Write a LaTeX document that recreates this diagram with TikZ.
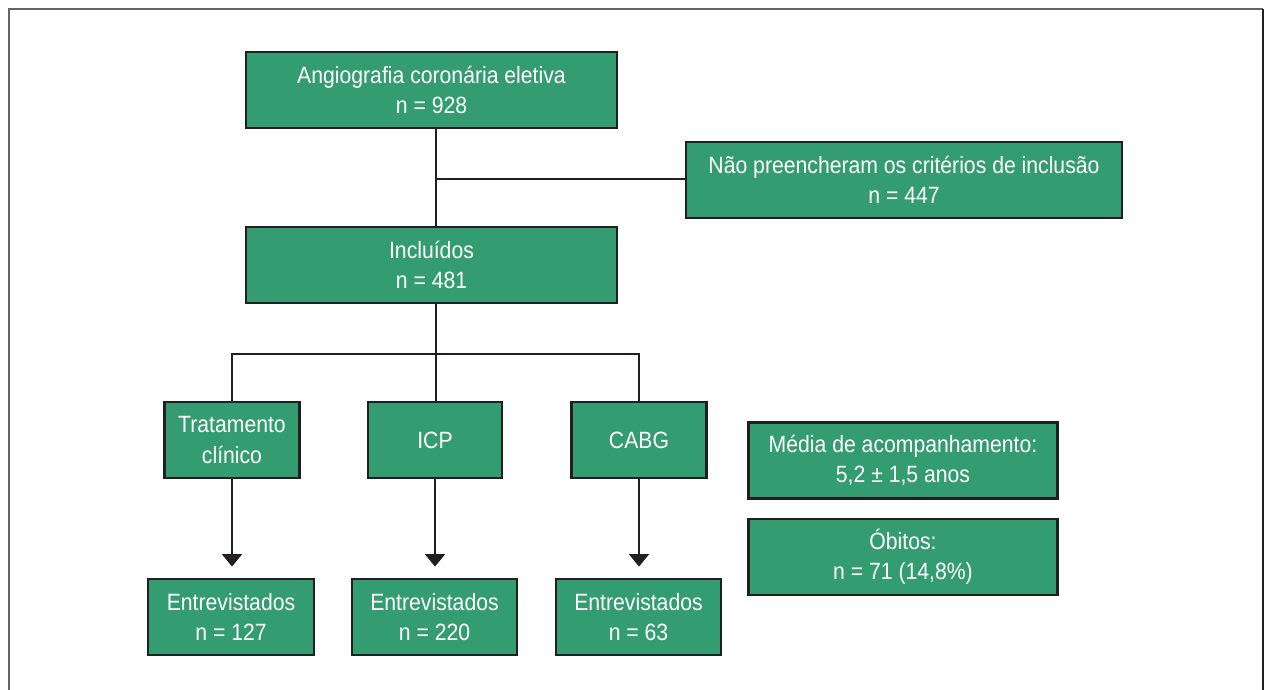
\documentclass[tikz,border=0pt]{standalone}
\usepackage{fontspec}
\setmainfont{Liberation Sans}[FakeStretch=0.9]
\usepackage{tikz}
\usetikzlibrary{arrows.meta}
\definecolor{boxgreen}{RGB}{51,156,112}
\definecolor{edge}{RGB}{35,31,32}

\begin{document}
\begin{tikzpicture}[x=0.02cm,y=-0.02cm]
        \tikzstyle{every node} = [rectangle]
        \tikzstyle{box} = [draw=edge, line width=1.6pt, fill=boxgreen, text=white, align=center,
            font=\fontsize{13.4}{17.2}\selectfont, inner sep=0pt, minimum height=1.52cm]
        \tikzstyle{link} = [draw=edge, line width=1.1pt]
        \tikzstyle{arrow} = [link, -{Triangle[width=0.4cm,length=0.25cm]}, shorten >=0.22cm]

        \useasboundingbox (0,0) rectangle (1269,690);
        \draw[line width=1.2pt, black!60] (9,690) -- (9,9) -- (1263,9);
        \draw[line width=1.2pt, edge] (1263,9) -- (1263,690);

        \node[box, minimum width=7.42cm] (top) at (431.5,90) {Angiografia coronária eletiva\\n = 928};
        \node[box, minimum width=8.72cm] (excl) at (904,180) {Não preencheram os critérios de inclusão\\n = 447};
        \node[box, minimum width=7.42cm] (incl) at (431.5,265) {Incluídos\\n = 481};

        \node[box, minimum width=2.70cm] (trat) at (232,440) {Tratamento\\clínico};
        \node[box, minimum width=2.68cm] (icp) at (435,440) {ICP};
        \node[box, minimum width=2.70cm] (cabg) at (639,440) {CABG};

        \node[box, minimum width=6.18cm] (media) at (903,460.5) {Média de acompanhamento:\\5,2 ± 1,5 anos};
        \node[box, minimum width=6.18cm] (obitos) at (903,557) {Óbitos:\\n = 71 (14,8\%)};

        \node[box, minimum width=3.32cm] (ent1) at (231,617) {Entrevistados\\n = 127};
        \node[box, minimum width=3.30cm] (ent2) at (434.5,617) {Entrevistados\\n = 220};
        \node[box, minimum width=3.30cm] (ent3) at (638.5,617) {Entrevistados\\n = 63};

        \coordinate (split1) at (436,179);
        \coordinate (split2) at (436,354);
        \draw[link] (top.south -| split1) -- (incl.north -| split1);
        \draw[link] (split1) -- (excl.west |- split1);
        \draw[link] (incl.south -| split2) -- (icp.north -| split2);
        \draw[link] (trat.north) |- (split2) -| (cabg.north);

        \foreach \from/\to in {trat/ent1, icp/ent2, cabg/ent3}
            \draw[arrow] (\from) -- (\from |- \to.north);
\end{tikzpicture}
\end{document}
